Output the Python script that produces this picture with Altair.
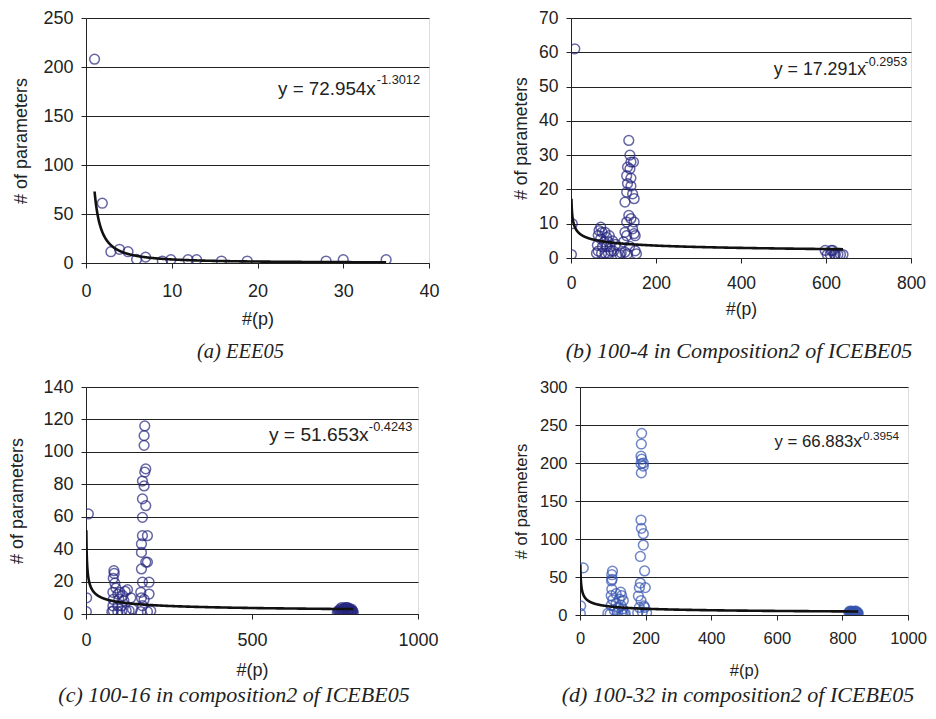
import altair as alt
import pandas as pd

# ---------------- data ----------------
# (a) EEE05
a_x = [1, 1.9, 2.9, 3.9, 4.9, 5.9, 6.95, 8.9, 9.9, 11.9, 12.9, 15.8, 18.8, 28, 30, 35]
a_y = [208, 61, 11.5, 14, 11.5, 3.7, 6, 2, 3.4, 3.4, 3.4, 2, 2, 2, 3.4, 3.4]

# (b) 100-4 in Composition2 of ICEBE05
b_x = [1, 3, 9,
       70, 66, 73, 80, 64, 84, 70, 78, 88, 62, 74, 84, 92, 64, 72, 80, 88, 94, 60, 100, 108, 115, 105, 98, 90,
       136, 138.6, 141, 147, 133, 138.6, 131, 141, 133, 141, 131, 145, 148.6, 127, 136, 141, 131, 148.6,
       145, 148.6, 127, 131, 151, 123.5, 138, 127, 151, 154, 133, 118,
       598, 603, 610, 616, 622, 628, 634, 640, 612, 620]
b_y = [1, 10, 61,
       9, 8, 7.5, 7.5, 6.6, 6, 5.6, 4.7, 4.7, 3.7, 3.3, 3.3, 3.3, 2, 1.4, 1.4, 1.4, 2, 1.4, 2, 1, 1, 4, 5, 6.5,
       34.3, 30, 28, 28, 26.5, 26, 24, 23.3, 21.7, 21, 19.2, 18.7, 17.3, 16.3, 12.4, 11.5, 10.5, 10.5,
       8.5, 7.1, 7.5, 6.5, 6.5, 4.7, 3.4, 1.7, 2.1, 1.2, 1.2, 1.5,
       2.2, 1, 1, 2.2, 1, 1, 1, 1, 2.2, 1]

# (c) 100-16 in composition2 of ICEBE05
c_x = [1, 2, 7,
       84, 85, 82, 87, 81, 96, 102, 111, 82, 99, 114, 81, 96, 108, 82, 96, 108, 121, 78, 130, 135, 125, 140, 118, 90,
       177, 175, 175, 180, 177, 170, 175, 170, 180, 170, 170, 185, 167, 167, 180, 185, 167, 170, 190,
       165, 190, 167, 175, 170, 195, 185, 165,
       757, 760, 762, 765, 768, 770, 772, 775, 778, 780, 783, 785, 788, 790, 792, 795, 796, 798, 800, 802, 805,
       763, 767, 773, 777, 782, 787, 793, 797, 803, 770, 780, 790, 800, 786, 776]
c_y = [1.4, 10, 61.7,
       26.7, 25, 22, 19, 13.4, 12.3, 13.4, 11.3, 9, 9, 8.2, 5, 5, 5, 2, 1.4, 1.8, 2, 1.4, 2, 10, 15, 3, 14, 16,
       116, 110, 104, 89.5, 87.5, 82, 79, 71, 66.8, 59.6, 48.3, 48.3, 43.2, 38, 32, 32, 27.8, 19.6, 19.6,
       13.4, 12.3, 10, 9, 5.1, 2, 1.4, 1.4,
       1, 2, 1, 3, 1, 2, 3, 2, 1, 3, 2, 4, 4, 2, 1, 3, 2, 1, 2, 1, 1,
       2, 1, 1, 3, 3, 2, 3, 1, 2, 4, 4, 3, 3, 1, 1]

# (d) 100-32 in composition2 of ICEBE05
d_x = [1, 2, 10,
       99, 97, 98, 96, 97, 95, 124, 127, 120, 132, 110, 125, 95, 105, 115, 127, 92, 135, 130, 138, 85, 110, 118, 100, 130,
       188, 187, 186, 188, 193, 186, 193, 187, 186, 187, 193, 193, 184, 197, 184, 181, 199, 178, 186, 181, 197,
       190, 176, 203, 195,
       820, 823, 825, 828, 830, 833, 835, 838, 840, 843, 845, 848, 822, 827, 832, 837, 842, 847, 826, 836, 844, 831]
d_y = [2, 12, 62,
       57.6, 53, 47, 45, 34, 25.5, 30, 25.5, 21, 19, 15, 12.6, 12.6, 6, 3.5, 3.5, 1.3, 1.3, 0.5, 2, 2, 28, 10, 20, 8,
       239, 225, 209, 205, 200, 199, 196, 187, 125, 114, 107, 92, 77, 58, 42, 36, 36, 25, 19, 10, 10,
       4, 3, 3, 12,
       3, 4, 2, 5, 3, 4, 1, 5, 1, 2, 3, 2, 5, 1, 4, 2, 5, 3, 3, 4, 2, 1]

# power trendline coefficients as printed on the chart
coef_a = [72.954, 17.291, 51.653, 66.883]
coef_b = [-1.3012, -0.2953, -0.4243, -0.3954]
eq_main = ["y = 72.954x", "y = 17.291x", "y = 51.653x", "y = 66.883x"]
eq_sup = ["-1.3012", "-0.2953", "-0.4243", "-0.3954"]
# equation anchors in data units
eq_main_pos = [(22.4, 177.6), (477, 54.7), (551, 110.4), (593, 227)]
eq_sup_pos = [(33.9, 186.7), (690.6, 57.1), (852, 115.5), (851, 235)]

captions = ["(a) EEE05",
            "(b) 100-4 in Composition2 of ICEBE05",
            "(c) 100-16 in composition2 of ICEBE05",
            "(d) 100-32 in composition2 of ICEBE05"]

x_ticks = [[0, 10, 20, 30, 40], [0, 200, 400, 600, 800], [0, 500, 1000], [0, 200, 400, 600, 800, 1000]]
y_ticks = [[0, 50, 100, 150, 200, 250], [0, 10, 20, 30, 40, 50, 60, 70],
           [0, 20, 40, 60, 80, 100, 120, 140], [0, 50, 100, 150, 200, 250, 300]]

SANS = "Liberation Sans"
SERIF = "Liberation Serif"


def panel(i, xs, ys, color, w, h, fs, eqfs, supfs, xlp, xtp, ytp, cap_fs, cap_off, cap_dx):
    df = pd.DataFrame({"x": xs, "y": ys})
    xt, yt = x_ticks[i], y_ticks[i]
    xscale = alt.Scale(domain=[xt[0], xt[-1]], nice=False, zero=True)
    yscale = alt.Scale(domain=[yt[0], yt[-1]], nice=False, zero=True)
    xaxis = alt.Axis(values=xt, tickCount=len(xt), grid=False, tickSize=5, tickColor="#222",
                     domainColor="#222", labelFlush=False, labelOverlap=False,
                     labelFont=SANS, labelFontSize=fs, labelColor="#222", labelPadding=xlp,
                     title="#(p)", titleFont=SANS, titleFontSize=fs, titleFontWeight="normal",
                     titleColor="#222", titlePadding=xtp, format="d")
    yaxis = alt.Axis(values=yt, tickCount=len(yt), grid=True, gridColor="#222", gridWidth=1,
                     tickSize=5, tickColor="#222", domainColor="#222", labelOverlap=False,
                     labelFont=SANS, labelFontSize=fs, labelColor="#222", labelPadding=8,
                     title="# of parameters", titleFont=SANS, titleFontSize=fs,
                     titleFontWeight="normal", titleColor="#222", titlePadding=ytp, format="d")
    pts = alt.Chart(df).mark_point(shape="circle", filled=False, size=95, strokeWidth=1.5,
                                   color=color, clip=True).encode(
        x=alt.X("x:Q", scale=xscale, axis=xaxis),
        y=alt.Y("y:Q", scale=yscale, axis=yaxis))
    # trendline: printed power law, sampled geometrically from x=1 to the largest x
    xmax = max(xs)
    line = alt.Chart(alt.sequence(0, 1.0005, 0.002, as_="t")).transform_calculate(
        x=f"pow({xmax}, datum.t)"
    ).transform_calculate(
        fit=f"{coef_a[i]} * pow(datum.x, {coef_b[i]})"
    ).mark_line(color="#111", strokeWidth=2.6, clip=True).encode(
        x=alt.X("x:Q", scale=xscale), y=alt.Y("fit:Q", scale=yscale), order="t:Q")
    mp = pd.DataFrame({"x": [eq_main_pos[i][0]], "y": [eq_main_pos[i][1]], "t": [eq_main[i]]})
    sp = pd.DataFrame({"x": [eq_sup_pos[i][0]], "y": [eq_sup_pos[i][1]], "t": [eq_sup[i]]})
    t1 = alt.Chart(mp).mark_text(align="left", baseline="middle", font=SANS, fontSize=eqfs,
                                 color="#222").encode(
        x=alt.X("x:Q", scale=xscale), y=alt.Y("y:Q", scale=yscale), text="t:N")
    t2 = alt.Chart(sp).mark_text(align="left", baseline="middle", font=SANS, fontSize=supfs,
                                 color="#222").encode(
        x=alt.X("x:Q", scale=xscale), y=alt.Y("y:Q", scale=yscale), text="t:N")
    return alt.layer(pts, line, t1, t2).properties(
        width=w, height=h,
        title=alt.TitleParams(captions[i], orient="bottom", anchor="middle", frame="group",
                              font=SERIF, fontStyle="italic", fontWeight="normal", fontSize=cap_fs,
                              color="#222", offset=cap_off, dx=cap_dx))


NAVY = "#262680"
BLUE = "#3554b0"
pa = panel(0, a_x, a_y, NAVY, 343, 245, 18, 18.8, 12.8, 14, 10, 12, 20.5, 14, -17)
pb = panel(1, b_x, b_y, NAVY, 340, 240, 17.5, 17.8, 12.6, 11, 9, 8, 22, 23, -2)
pc = panel(2, c_x, c_y, NAVY, 332, 227, 18, 19.2, 12.8, 12, 12, 16, 22, 6, -18)
pd_ = panel(3, d_x, d_y, BLUE, 328, 228, 16.5, 16.8, 11.8, 10, 16, 10, 22, 6, -6)

# within a row the cells are placed by their plot areas only
chart = alt.vconcat(
    alt.hconcat(pa, pb, spacing=142, bounds="flush"),
    alt.hconcat(pc, pd_, spacing=162, bounds="flush"),
    spacing=14,
).properties(padding=0).configure_view(stroke="#999", strokeWidth=1).configure(background="white")

chart.save("out.html", embed_options={"renderer": "svg", "actions": False})
